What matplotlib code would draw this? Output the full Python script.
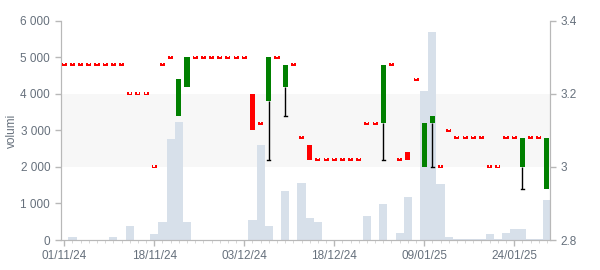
import pandas as pd
import numpy as np
import matplotlib
matplotlib.use('Agg')
import matplotlib.pyplot as plt
from matplotlib.ticker import FuncFormatter, MultipleLocator

# trading days (Borsa Italiana calendar, holidays removed)
holidays = ['2024-12-24', '2024-12-25', '2024-12-26', '2024-12-31', '2025-01-01']
days = pd.bdate_range('2024-11-01', '2025-01-30')
days = days[~days.isin(pd.to_datetime(holidays))]

price_open = [3.28, 3.28, 3.28, 3.28, 3.28, 3.28, 3.28, 3.28, 3.20, 3.20,
              3.20, 3.00, 3.28, 3.30, 3.14, 3.22, 3.30, 3.30, 3.30, 3.30,
              3.30, 3.30, 3.30, 3.20, 3.12, 3.18, 3.30, 3.22, 3.28, 3.08,
              3.06, 3.02, 3.02, 3.02, 3.02, 3.02, 3.02, 3.12, 3.12, 3.12,
              3.28, 3.02, 3.04, 3.24, 3.00, 3.12, 3.00, 3.10, 3.08, 3.08,
              3.08, 3.08, 3.00, 3.00, 3.08, 3.08, 3.00, 3.08, 3.08, 2.94]
price_close = [3.28, 3.28, 3.28, 3.28, 3.28, 3.28, 3.28, 3.28, 3.20, 3.20,
               3.20, 3.00, 3.28, 3.30, 3.24, 3.30, 3.30, 3.30, 3.30, 3.30,
               3.30, 3.30, 3.30, 3.10, 3.12, 3.30, 3.30, 3.28, 3.28, 3.08,
               3.02, 3.02, 3.02, 3.02, 3.02, 3.02, 3.02, 3.12, 3.12, 3.28,
               3.28, 3.02, 3.02, 3.24, 3.12, 3.14, 3.00, 3.10, 3.08, 3.08,
               3.08, 3.08, 3.00, 3.00, 3.08, 3.08, 3.08, 3.08, 3.08, 3.08]
# lows only where a lower shadow shows
price_low = {25: 3.02, 27: 3.14, 39: 3.02, 45: 3.00, 56: 2.94}
volume = [0, 80, 0, 0, 0, 0, 80, 0, 390, 0,
          0, 160, 490, 2760, 3230, 490, 0, 0, 0, 0,
          0, 0, 0, 550, 2600, 390, 0, 1340, 0, 1560,
          600, 490, 0, 0, 0, 0, 0, 660, 0, 990,
          0, 190, 1180, 0, 4080, 5690, 1530, 80, 30, 30,
          30, 30, 160, 30, 190, 300, 300, 20, 20, 1100]

tick_col = '#66707c'
plt.rcParams['font.family'] = ['Liberation Sans', 'DejaVu Sans']
plt.rcParams['font.size'] = 8.5

x = np.arange(len(days))
fig = plt.figure(figsize=(6, 2.7), dpi=100)
ax = fig.add_axes([0.101, 0.111, 0.816, 0.812])
ax2 = ax.twinx()

ax.axhspan(2000, 4000, color='#f7f7f7', zorder=0, lw=0)
ax.bar(x, volume, width=1.0, color='#d7e0ea', zorder=1)
ax.set_ylim(0, 6000)
ax.set_xlim(-0.45, 59.4)
ax.yaxis.set_major_locator(MultipleLocator(1000))
ax.yaxis.set_major_formatter(FuncFormatter(lambda v, p: '{:,}'.format(int(v)).replace(',', ' ')))
ax.set_ylabel('volumi', color=tick_col)
ax.yaxis.set_label_coords(-0.087, 0.5)

for i in x:
    o, c = price_open[i], price_close[i]
    if i in price_low:
        ax2.vlines(i, price_low[i], min(o, c), color='black', lw=1, zorder=2)
        ax2.plot([i - 0.2, i + 0.2], [price_low[i], price_low[i]], color='black', lw=1, zorder=2)
    if o == c:
        ax2.bar(i, 0.008, bottom=o - 0.004, width=0.62, color='#ff0000', lw=0, zorder=3)
        ax2.bar(i, 0.003, bottom=o + 0.001, width=0.2, color='white', lw=0, zorder=4)
    else:
        col = '#008000' if c > o else '#ff0000'
        ax2.bar(i, abs(c - o), bottom=min(o, c), width=0.62, color=col, lw=0, zorder=3)

ax2.set_ylim(2.8, 3.4)
ax2.yaxis.set_major_locator(MultipleLocator(0.2))
ax2.yaxis.set_major_formatter(FuncFormatter(lambda v, p: '%g' % round(v, 2)))

ax.set_xticks(x[::11])
ax.set_xticklabels([d.strftime('%d/%m/%y') for d in days[::11]])
ax.set_xticks(x, minor=True)

for a in (ax, ax2):
    a.spines['top'].set_visible(False)
    for s in ('left', 'right', 'bottom'):
        a.spines[s].set_color('#b8b8b8')
    a.tick_params(colors='#b8b8b8', labelcolor=tick_col, length=4, width=1)
    a.tick_params(axis='x', which='minor', length=2, color='#d0d0d0')

fig.savefig('out.png', dpi=100)
